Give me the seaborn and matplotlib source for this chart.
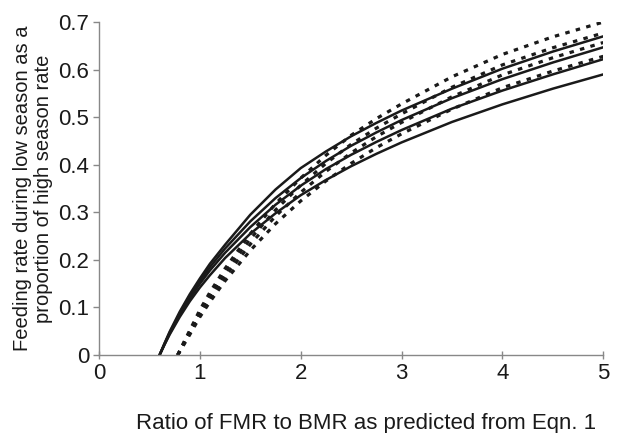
import matplotlib
matplotlib.use("Agg")
import matplotlib.pyplot as plt
import seaborn as sns
import pandas as pd

# ratio FMR/BMR sample points
x_solid = [0.6, 0.65, 0.7, 0.8, 0.9, 1.0, 1.1, 1.25, 1.5, 1.75, 2.0, 2.25, 2.5, 2.75, 3.0, 3.5, 4.0, 4.5, 5.0]
x_dot = [0.78, 0.85, 0.9, 1.0, 1.1, 1.25, 1.5, 1.75, 2.0, 2.25, 2.5, 2.75, 3.0, 3.5, 4.0, 4.5, 5.0]

# solid curves (top to bottom)
solid_1 = [0, 0.025, 0.049, 0.091, 0.128, 0.161, 0.192, 0.232, 0.295, 0.348, 0.393, 0.428, 0.460, 0.488, 0.514, 0.560, 0.602, 0.638, 0.670]
solid_2 = [0, 0.024, 0.047, 0.088, 0.124, 0.156, 0.185, 0.224, 0.281, 0.330, 0.372, 0.408, 0.440, 0.468, 0.494, 0.540, 0.580, 0.615, 0.647]
solid_3 = [0, 0.023, 0.045, 0.084, 0.119, 0.150, 0.178, 0.215, 0.269, 0.316, 0.356, 0.391, 0.421, 0.448, 0.473, 0.518, 0.556, 0.590, 0.622]
solid_4 = [0, 0.022, 0.043, 0.080, 0.113, 0.142, 0.168, 0.204, 0.255, 0.298, 0.336, 0.368, 0.397, 0.423, 0.447, 0.490, 0.527, 0.560, 0.590]

# dotted curves (top to bottom)
dot_1 = [0, 0.031, 0.052, 0.095, 0.132, 0.182, 0.255, 0.318, 0.372, 0.420, 0.462, 0.497, 0.528, 0.585, 0.632, 0.669, 0.700]
dot_2 = [0, 0.029, 0.049, 0.090, 0.126, 0.174, 0.244, 0.305, 0.357, 0.403, 0.443, 0.477, 0.507, 0.563, 0.610, 0.646, 0.677]
dot_3 = [0, 0.027, 0.046, 0.085, 0.119, 0.165, 0.233, 0.292, 0.342, 0.386, 0.425, 0.459, 0.489, 0.543, 0.589, 0.625, 0.657]
dot_4 = [0, 0.025, 0.043, 0.080, 0.112, 0.156, 0.220, 0.276, 0.324, 0.366, 0.403, 0.436, 0.465, 0.517, 0.562, 0.597, 0.628]

sns.set_style("ticks")
plt.rcParams['font.family'] = ['Liberation Sans', 'DejaVu Sans']

fig = plt.figure(figsize=(6.39, 4.33), dpi=100)
ax = fig.add_axes([0.155, 0.180, 0.789, 0.769])

for ys in [solid_1, solid_2, solid_3, solid_4]:
    df = pd.DataFrame({'x': x_solid, 'y': ys})
    sns.lineplot(data=df, x='x', y='y', ax=ax, color='#1a1a1a', linewidth=1.8,
                 estimator=None, sort=False)

for ys in [dot_1, dot_2, dot_3, dot_4]:
    df = pd.DataFrame({'x': x_dot, 'y': ys})
    sns.lineplot(data=df, x='x', y='y', ax=ax, color='#1a1a1a', linewidth=2.3,
                 linestyle=(0, (1.4, 2.0)), estimator=None, sort=False)

ax.set_xlim(0, 5)
ax.set_ylim(0, 0.7)
ax.set_xticks([0, 1, 2, 3, 4, 5])
ax.set_yticks([0, 0.1, 0.2, 0.3, 0.4, 0.5, 0.6, 0.7])
ax.set_yticklabels(['0', '0.1', '0.2', '0.3', '0.4', '0.5', '0.6', '0.7'])
ax.tick_params(axis='both', labelsize=16, colors='#888888', labelcolor='#1a1a1a',
               length=4, width=1, pad=3)
ax.tick_params(axis='x', direction='inout', length=6)
sns.despine(ax=ax)
for s in ['left', 'bottom']:
    ax.spines[s].set_color('#888888')
    ax.spines[s].set_linewidth(1)

ax.set_xlabel('Ratio of FMR to BMR as predicted from Eqn. 1', fontsize=16,
              color='#1a1a1a')
ax.xaxis.set_label_coords(0.53, -0.175)
ax.set_ylabel('Feeding rate during low season as a\nproportion of high season rate',
              fontsize=14.5, color='#1a1a1a', labelpad=4, linespacing=1.1)

fig.savefig('out.png', dpi=100)
